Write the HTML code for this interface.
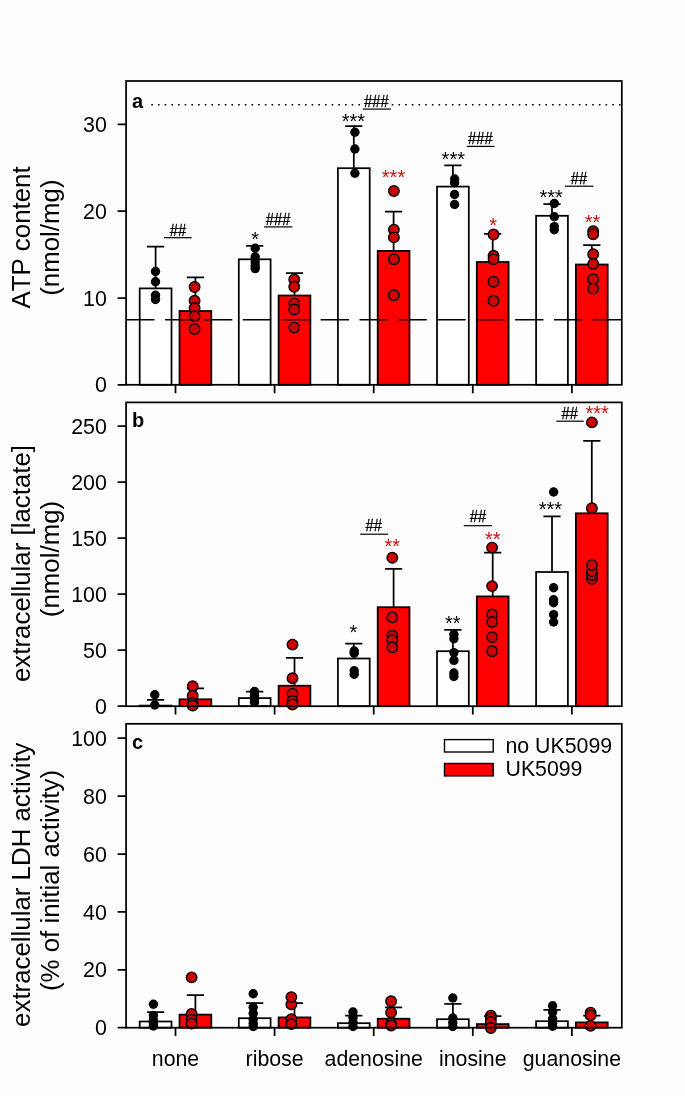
<!DOCTYPE html>
<html><head><meta charset="utf-8"><title>chart</title>
<style>
html,body{margin:0;padding:0;background:#fdfdfd;}
body{width:685px;height:1096px;overflow:hidden;}
svg{display:block;filter:blur(0.35px);}
text{font-family:"Liberation Sans",sans-serif;fill:#000;font-kerning:none;}
.t{font-size:21.4px;text-anchor:end;}
.x{font-size:21.3px;text-anchor:middle;}
.y{font-size:25.85px;text-anchor:middle;}
.p{font-size:20px;font-weight:bold;}
.h{font-size:15px;text-anchor:middle;stroke:#000;stroke-width:0.3px;}
.s{font-size:20px;text-anchor:middle;}
.l{font-size:21.3px;}
</style></head><body>
<svg width="685" height="1096" viewBox="0 0 685 1096">
<rect x="0" y="0" width="685" height="1096" fill="#fdfdfd"/>
<g>
<rect x="139.7" y="288.4" width="31.8" height="96.4" fill="#ffffff" stroke="#000" stroke-width="1.75"/>
<path d="M155.6 288.4V246.7M147 246.7H164.2" stroke="#000" stroke-width="1.75" fill="none"/>
<circle cx="155.5" cy="271.5" r="4.7" fill="#000"/>
<circle cx="155.5" cy="281.8" r="4.7" fill="#000"/>
<circle cx="155.5" cy="295.3" r="4.7" fill="#000"/>
<circle cx="155.5" cy="299.5" r="4.7" fill="#000"/>
<rect x="179.5" y="311" width="31.8" height="73.8" fill="#ff0000" stroke="#000" stroke-width="1.75"/>
<path d="M195.4 311V277.4M186.8 277.4H204" stroke="#000" stroke-width="1.75" fill="none"/>
<circle cx="194.6" cy="287" r="5.25" fill="#cc0000" stroke="#000" stroke-width="1.4"/>
<circle cx="194.6" cy="300.7" r="5.25" fill="#cc0000" stroke="#000" stroke-width="1.4"/>
<circle cx="194.6" cy="308" r="5.25" fill="#cc0000" stroke="#000" stroke-width="1.4"/>
<circle cx="194.6" cy="316.2" r="5.25" fill="#cc0000" stroke="#000" stroke-width="1.4"/>
<circle cx="194.6" cy="329" r="5.25" fill="#cc0000" stroke="#000" stroke-width="1.4"/>
<rect x="238.8" y="259.3" width="31.8" height="125.5" fill="#ffffff" stroke="#000" stroke-width="1.75"/>
<path d="M254.7 259.3V245.8M246.1 245.8H263.3" stroke="#000" stroke-width="1.75" fill="none"/>
<circle cx="255.2" cy="248.2" r="4.7" fill="#000"/>
<circle cx="255.2" cy="256.9" r="4.7" fill="#000"/>
<circle cx="255.2" cy="261.9" r="4.7" fill="#000"/>
<circle cx="255.2" cy="265.7" r="4.7" fill="#000"/>
<circle cx="255.2" cy="268.6" r="4.7" fill="#000"/>
<rect x="278.6" y="295.5" width="31.8" height="89.3" fill="#ff0000" stroke="#000" stroke-width="1.75"/>
<path d="M294.5 295.5V273M285.9 273H303.1" stroke="#000" stroke-width="1.75" fill="none"/>
<circle cx="294.25" cy="279.4" r="5.25" fill="#cc0000" stroke="#000" stroke-width="1.4"/>
<circle cx="294.25" cy="286.7" r="5.25" fill="#cc0000" stroke="#000" stroke-width="1.4"/>
<circle cx="294.25" cy="303.6" r="5.25" fill="#cc0000" stroke="#000" stroke-width="1.4"/>
<circle cx="294.25" cy="309.5" r="5.25" fill="#cc0000" stroke="#000" stroke-width="1.4"/>
<circle cx="294.25" cy="327.6" r="5.25" fill="#cc0000" stroke="#000" stroke-width="1.4"/>
<rect x="337.9" y="168.2" width="31.8" height="216.6" fill="#ffffff" stroke="#000" stroke-width="1.75"/>
<path d="M353.8 168.2V126.2M345.2 126.2H362.4" stroke="#000" stroke-width="1.75" fill="none"/>
<circle cx="354.9" cy="132.3" r="4.7" fill="#000"/>
<circle cx="354.9" cy="149" r="4.7" fill="#000"/>
<circle cx="354.9" cy="173.2" r="4.7" fill="#000"/>
<rect x="377.7" y="250.9" width="31.8" height="133.9" fill="#ff0000" stroke="#000" stroke-width="1.75"/>
<path d="M393.6 250.9V211.5M385 211.5H402.2" stroke="#000" stroke-width="1.75" fill="none"/>
<circle cx="393.9" cy="191" r="5.25" fill="#cc0000" stroke="#000" stroke-width="1.4"/>
<circle cx="393.9" cy="229.6" r="5.25" fill="#cc0000" stroke="#000" stroke-width="1.4"/>
<circle cx="393.9" cy="237.4" r="5.25" fill="#cc0000" stroke="#000" stroke-width="1.4"/>
<circle cx="393.9" cy="259.3" r="5.25" fill="#cc0000" stroke="#000" stroke-width="1.4"/>
<circle cx="393.9" cy="295.3" r="5.25" fill="#cc0000" stroke="#000" stroke-width="1.4"/>
<rect x="437" y="186.6" width="31.8" height="198.2" fill="#ffffff" stroke="#000" stroke-width="1.75"/>
<path d="M452.9 186.6V165.3M444.3 165.3H461.5" stroke="#000" stroke-width="1.75" fill="none"/>
<circle cx="454.6" cy="179" r="4.7" fill="#000"/>
<circle cx="454.6" cy="182.8" r="4.7" fill="#000"/>
<circle cx="454.6" cy="194.5" r="4.7" fill="#000"/>
<circle cx="454.6" cy="204.5" r="4.7" fill="#000"/>
<rect x="476.8" y="262" width="31.8" height="122.8" fill="#ff0000" stroke="#000" stroke-width="1.75"/>
<path d="M492.7 262V233.9M484.1 233.9H501.3" stroke="#000" stroke-width="1.75" fill="none"/>
<circle cx="493.55" cy="234.5" r="5.25" fill="#cc0000" stroke="#000" stroke-width="1.4"/>
<circle cx="493.55" cy="255.8" r="5.25" fill="#cc0000" stroke="#000" stroke-width="1.4"/>
<circle cx="493.55" cy="259.3" r="5.25" fill="#cc0000" stroke="#000" stroke-width="1.4"/>
<circle cx="493.55" cy="281.8" r="5.25" fill="#cc0000" stroke="#000" stroke-width="1.4"/>
<circle cx="493.55" cy="300.8" r="5.25" fill="#cc0000" stroke="#000" stroke-width="1.4"/>
<rect x="536.1" y="215.8" width="31.8" height="169" fill="#ffffff" stroke="#000" stroke-width="1.75"/>
<path d="M552 215.8V204.2M543.4 204.2H560.6" stroke="#000" stroke-width="1.75" fill="none"/>
<circle cx="554.3" cy="203.5" r="4.7" fill="#000"/>
<circle cx="554.3" cy="216.8" r="4.7" fill="#000"/>
<circle cx="554.3" cy="226.6" r="4.7" fill="#000"/>
<circle cx="554.3" cy="229.7" r="4.7" fill="#000"/>
<rect x="575.9" y="264.5" width="31.8" height="120.3" fill="#ff0000" stroke="#000" stroke-width="1.75"/>
<path d="M591.8 264.5V245M583.2 245H600.4" stroke="#000" stroke-width="1.75" fill="none"/>
<circle cx="593.2" cy="231.3" r="5.25" fill="#cc0000" stroke="#000" stroke-width="1.4"/>
<circle cx="593.2" cy="234.2" r="5.25" fill="#cc0000" stroke="#000" stroke-width="1.4"/>
<circle cx="593.2" cy="254.2" r="5.25" fill="#cc0000" stroke="#000" stroke-width="1.4"/>
<circle cx="593.2" cy="264" r="5.25" fill="#cc0000" stroke="#000" stroke-width="1.4"/>
<circle cx="593.2" cy="279.2" r="5.25" fill="#cc0000" stroke="#000" stroke-width="1.4"/>
<circle cx="593.2" cy="288.6" r="5.25" fill="#cc0000" stroke="#000" stroke-width="1.4"/>
<line x1="126.1" y1="319.8" x2="621.8" y2="319.8" stroke="#000" stroke-width="1.5" stroke-dasharray="28.4 10.5"/>
<line x1="151.3" y1="104.8" x2="621.8" y2="104.8" stroke="#000" stroke-width="1.6" stroke-dasharray="1.6 5.08"/>
<rect x="362.5" y="95" width="28.5" height="15" fill="#fdfdfd"/>
<rect x="126.1" y="81" width="495.7" height="303.8" fill="none" stroke="#000" stroke-width="1.75"/>
<text class="t" x="106.9" y="392.4">0</text>
<text class="t" x="106.9" y="305.6">10</text>
<text class="t" x="106.9" y="218.8">20</text>
<text class="t" x="106.9" y="132">30</text>
<path d="M117.6 384.8H126.1M117.6 298H126.1M117.6 211.2H126.1M117.6 124.4H126.1M175.5 384.8V393.2M274.6 384.8V393.2M373.7 384.8V393.2M472.8 384.8V393.2M571.9 384.8V393.2" stroke="#000" stroke-width="1.75" fill="none"/>
</g>
<g>
<rect x="139.7" y="705.6" width="31.8" height="0.6" fill="#ffffff" stroke="#000" stroke-width="1.75"/>
<path d="M155.6 705.6V699.9M147 699.9H164.2" stroke="#000" stroke-width="1.75" fill="none"/>
<circle cx="154.8" cy="694.8" r="4.7" fill="#000"/>
<circle cx="154.8" cy="705" r="4.7" fill="#000"/>
<rect x="179.5" y="699.3" width="31.8" height="6.9" fill="#ff0000" stroke="#000" stroke-width="1.75"/>
<path d="M195.4 699.3V688.3M186.8 688.3H204" stroke="#000" stroke-width="1.75" fill="none"/>
<circle cx="192.7" cy="686.2" r="5.25" fill="#cc0000" stroke="#000" stroke-width="1.4"/>
<circle cx="192.7" cy="695.8" r="5.25" fill="#cc0000" stroke="#000" stroke-width="1.4"/>
<circle cx="192.7" cy="703.1" r="5.25" fill="#cc0000" stroke="#000" stroke-width="1.4"/>
<circle cx="192.7" cy="705.5" r="5.25" fill="#cc0000" stroke="#000" stroke-width="1.4"/>
<rect x="238.8" y="698.1" width="31.8" height="8.1" fill="#ffffff" stroke="#000" stroke-width="1.75"/>
<path d="M254.7 698.1V691.5M246.1 691.5H263.3" stroke="#000" stroke-width="1.75" fill="none"/>
<circle cx="254.5" cy="691.5" r="4.7" fill="#000"/>
<circle cx="254.5" cy="695.5" r="4.7" fill="#000"/>
<circle cx="254.5" cy="699" r="4.7" fill="#000"/>
<circle cx="254.5" cy="702.2" r="4.7" fill="#000"/>
<rect x="278.6" y="685.7" width="31.8" height="20.5" fill="#ff0000" stroke="#000" stroke-width="1.75"/>
<path d="M294.5 685.7V657.9M285.9 657.9H303.1" stroke="#000" stroke-width="1.75" fill="none"/>
<circle cx="292.5" cy="644.6" r="5.25" fill="#cc0000" stroke="#000" stroke-width="1.4"/>
<circle cx="292.5" cy="678.2" r="5.25" fill="#cc0000" stroke="#000" stroke-width="1.4"/>
<circle cx="292.5" cy="693.8" r="5.25" fill="#cc0000" stroke="#000" stroke-width="1.4"/>
<circle cx="292.5" cy="701" r="5.25" fill="#cc0000" stroke="#000" stroke-width="1.4"/>
<circle cx="292.5" cy="704.5" r="5.25" fill="#cc0000" stroke="#000" stroke-width="1.4"/>
<rect x="337.9" y="658.5" width="31.8" height="47.7" fill="#ffffff" stroke="#000" stroke-width="1.75"/>
<path d="M353.8 658.5V643.6M345.2 643.6H362.4" stroke="#000" stroke-width="1.75" fill="none"/>
<circle cx="354.2" cy="651" r="4.7" fill="#000"/>
<circle cx="354.2" cy="653.3" r="4.7" fill="#000"/>
<circle cx="354.2" cy="670.8" r="4.7" fill="#000"/>
<circle cx="354.2" cy="674.3" r="4.7" fill="#000"/>
<rect x="377.7" y="607.2" width="31.8" height="99" fill="#ff0000" stroke="#000" stroke-width="1.75"/>
<path d="M393.6 607.2V568.9M385 568.9H402.2" stroke="#000" stroke-width="1.75" fill="none"/>
<circle cx="392.3" cy="557.8" r="5.25" fill="#cc0000" stroke="#000" stroke-width="1.4"/>
<circle cx="392.3" cy="617.4" r="5.25" fill="#cc0000" stroke="#000" stroke-width="1.4"/>
<circle cx="392.3" cy="635.8" r="5.25" fill="#cc0000" stroke="#000" stroke-width="1.4"/>
<circle cx="392.3" cy="640.1" r="5.25" fill="#cc0000" stroke="#000" stroke-width="1.4"/>
<circle cx="392.3" cy="647.4" r="5.25" fill="#cc0000" stroke="#000" stroke-width="1.4"/>
<rect x="437" y="651.2" width="31.8" height="55" fill="#ffffff" stroke="#000" stroke-width="1.75"/>
<path d="M452.9 651.2V629.9M444.3 629.9H461.5" stroke="#000" stroke-width="1.75" fill="none"/>
<circle cx="453.9" cy="634.4" r="4.7" fill="#000"/>
<circle cx="453.9" cy="638.8" r="4.7" fill="#000"/>
<circle cx="453.9" cy="652.6" r="4.7" fill="#000"/>
<circle cx="453.9" cy="660.4" r="4.7" fill="#000"/>
<circle cx="453.9" cy="673" r="4.7" fill="#000"/>
<circle cx="453.9" cy="676.5" r="4.7" fill="#000"/>
<rect x="476.8" y="596.4" width="31.8" height="109.8" fill="#ff0000" stroke="#000" stroke-width="1.75"/>
<path d="M492.7 596.4V552.6M484.1 552.6H501.3" stroke="#000" stroke-width="1.75" fill="none"/>
<circle cx="492.1" cy="547.6" r="5.25" fill="#cc0000" stroke="#000" stroke-width="1.4"/>
<circle cx="492.1" cy="586.1" r="5.25" fill="#cc0000" stroke="#000" stroke-width="1.4"/>
<circle cx="492.1" cy="614.5" r="5.25" fill="#cc0000" stroke="#000" stroke-width="1.4"/>
<circle cx="492.1" cy="622" r="5.25" fill="#cc0000" stroke="#000" stroke-width="1.4"/>
<circle cx="492.1" cy="637.2" r="5.25" fill="#cc0000" stroke="#000" stroke-width="1.4"/>
<circle cx="492.1" cy="651.2" r="5.25" fill="#cc0000" stroke="#000" stroke-width="1.4"/>
<rect x="536.1" y="572" width="31.8" height="134.2" fill="#ffffff" stroke="#000" stroke-width="1.75"/>
<path d="M552 572V516.3M543.4 516.3H560.6" stroke="#000" stroke-width="1.75" fill="none"/>
<circle cx="553.6" cy="492" r="4.7" fill="#000"/>
<circle cx="553.6" cy="587.7" r="4.7" fill="#000"/>
<circle cx="553.6" cy="599.8" r="4.7" fill="#000"/>
<circle cx="553.6" cy="602.8" r="4.7" fill="#000"/>
<circle cx="553.6" cy="614.6" r="4.7" fill="#000"/>
<circle cx="553.6" cy="622" r="4.7" fill="#000"/>
<rect x="575.9" y="513.3" width="31.8" height="192.9" fill="#ff0000" stroke="#000" stroke-width="1.75"/>
<path d="M591.8 513.3V440.8M583.2 440.8H600.4" stroke="#000" stroke-width="1.75" fill="none"/>
<circle cx="591.9" cy="422.4" r="5.25" fill="#cc0000" stroke="#000" stroke-width="1.4"/>
<circle cx="591.9" cy="508.2" r="5.25" fill="#cc0000" stroke="#000" stroke-width="1.4"/>
<circle cx="591.9" cy="578.7" r="5.25" fill="#cc0000" stroke="#000" stroke-width="1.4"/>
<circle cx="591.9" cy="575.1" r="5.25" fill="#cc0000" stroke="#000" stroke-width="1.4"/>
<circle cx="591.9" cy="571.2" r="5.25" fill="#cc0000" stroke="#000" stroke-width="1.4"/>
<circle cx="591.9" cy="565.1" r="5.25" fill="#cc0000" stroke="#000" stroke-width="1.4"/>
<rect x="126.1" y="402.4" width="495.7" height="303.8" fill="none" stroke="#000" stroke-width="1.75"/>
<text class="t" x="106.9" y="713.8">0</text>
<text class="t" x="106.9" y="657.8">50</text>
<text class="t" x="106.9" y="601.8">100</text>
<text class="t" x="106.9" y="545.8">150</text>
<text class="t" x="106.9" y="489.8">200</text>
<text class="t" x="106.9" y="433.8">250</text>
<path d="M117.6 706.2H126.1M117.6 650.2H126.1M117.6 594.2H126.1M117.6 538.2H126.1M117.6 482.2H126.1M117.6 426.2H126.1M175.5 706.2V714.6M274.6 706.2V714.6M373.7 706.2V714.6M472.8 706.2V714.6M571.9 706.2V714.6" stroke="#000" stroke-width="1.75" fill="none"/>
</g>
<g>
<rect x="139.7" y="1021.5" width="31.8" height="6.2" fill="#ffffff" stroke="#000" stroke-width="1.75"/>
<path d="M155.6 1021.5V1012.1M147 1012.1H164.2" stroke="#000" stroke-width="1.75" fill="none"/>
<circle cx="153.4" cy="1004.3" r="4.7" fill="#000"/>
<circle cx="153.4" cy="1015.4" r="4.7" fill="#000"/>
<circle cx="153.4" cy="1020.3" r="4.7" fill="#000"/>
<circle cx="153.4" cy="1023.6" r="4.7" fill="#000"/>
<circle cx="153.4" cy="1026" r="4.7" fill="#000"/>
<rect x="179.5" y="1014.6" width="31.8" height="13.1" fill="#ff0000" stroke="#000" stroke-width="1.75"/>
<path d="M195.4 1014.6V995M186.8 995H204" stroke="#000" stroke-width="1.75" fill="none"/>
<circle cx="191.6" cy="977.4" r="5.25" fill="#cc0000" stroke="#000" stroke-width="1.4"/>
<circle cx="191.6" cy="1013.9" r="5.25" fill="#cc0000" stroke="#000" stroke-width="1.4"/>
<circle cx="191.6" cy="1019.7" r="5.25" fill="#cc0000" stroke="#000" stroke-width="1.4"/>
<circle cx="191.6" cy="1023.6" r="5.25" fill="#cc0000" stroke="#000" stroke-width="1.4"/>
<rect x="238.8" y="1018.2" width="31.8" height="9.5" fill="#ffffff" stroke="#000" stroke-width="1.75"/>
<path d="M254.7 1018.2V1003.1M246.1 1003.1H263.3" stroke="#000" stroke-width="1.75" fill="none"/>
<circle cx="253.2" cy="993.7" r="4.7" fill="#000"/>
<circle cx="253.2" cy="1007.2" r="4.7" fill="#000"/>
<circle cx="253.2" cy="1013.4" r="4.7" fill="#000"/>
<circle cx="253.2" cy="1019.5" r="4.7" fill="#000"/>
<circle cx="253.2" cy="1023.6" r="4.7" fill="#000"/>
<circle cx="253.2" cy="1026.5" r="4.7" fill="#000"/>
<rect x="278.6" y="1017.4" width="31.8" height="10.3" fill="#ff0000" stroke="#000" stroke-width="1.75"/>
<path d="M294.5 1017.4V1003.1M285.9 1003.1H303.1" stroke="#000" stroke-width="1.75" fill="none"/>
<circle cx="291.35" cy="1004.4" r="5.25" fill="#cc0000" stroke="#000" stroke-width="1.4"/>
<circle cx="291.35" cy="997.1" r="5.25" fill="#cc0000" stroke="#000" stroke-width="1.4"/>
<circle cx="291.35" cy="1019.3" r="5.25" fill="#cc0000" stroke="#000" stroke-width="1.4"/>
<circle cx="291.35" cy="1024.1" r="5.25" fill="#cc0000" stroke="#000" stroke-width="1.4"/>
<rect x="337.9" y="1023.2" width="31.8" height="4.5" fill="#ffffff" stroke="#000" stroke-width="1.75"/>
<path d="M353.8 1023.2V1015.6M345.2 1015.6H362.4" stroke="#000" stroke-width="1.75" fill="none"/>
<circle cx="353" cy="1012" r="4.7" fill="#000"/>
<circle cx="353" cy="1017.8" r="4.7" fill="#000"/>
<circle cx="353" cy="1022.4" r="4.7" fill="#000"/>
<circle cx="353" cy="1026.5" r="4.7" fill="#000"/>
<rect x="377.7" y="1018.7" width="31.8" height="9" fill="#ff0000" stroke="#000" stroke-width="1.75"/>
<path d="M393.6 1018.7V1007.4M385 1007.4H402.2" stroke="#000" stroke-width="1.75" fill="none"/>
<circle cx="391.1" cy="1001.2" r="5.25" fill="#cc0000" stroke="#000" stroke-width="1.4"/>
<circle cx="391.1" cy="1012.5" r="5.25" fill="#cc0000" stroke="#000" stroke-width="1.4"/>
<circle cx="391.1" cy="1023.4" r="5.25" fill="#cc0000" stroke="#000" stroke-width="1.4"/>
<circle cx="391.1" cy="1025.5" r="5.25" fill="#cc0000" stroke="#000" stroke-width="1.4"/>
<rect x="437" y="1019.2" width="31.8" height="8.5" fill="#ffffff" stroke="#000" stroke-width="1.75"/>
<path d="M452.9 1019.2V1003.8M444.3 1003.8H461.5" stroke="#000" stroke-width="1.75" fill="none"/>
<circle cx="452.8" cy="998" r="4.7" fill="#000"/>
<circle cx="452.8" cy="1018" r="4.7" fill="#000"/>
<circle cx="452.8" cy="1022.5" r="4.7" fill="#000"/>
<circle cx="452.8" cy="1026.5" r="4.7" fill="#000"/>
<rect x="476.8" y="1024.1" width="31.8" height="3.6" fill="#ff0000" stroke="#000" stroke-width="1.75"/>
<path d="M492.7 1024.1V1016M484.1 1016H501.3" stroke="#000" stroke-width="1.75" fill="none"/>
<circle cx="490.85" cy="1015.6" r="5.25" fill="#cc0000" stroke="#000" stroke-width="1.4"/>
<circle cx="490.85" cy="1018.5" r="5.25" fill="#cc0000" stroke="#000" stroke-width="1.4"/>
<circle cx="490.85" cy="1022" r="5.25" fill="#cc0000" stroke="#000" stroke-width="1.4"/>
<circle cx="490.85" cy="1028" r="5.25" fill="#cc0000" stroke="#000" stroke-width="1.4"/>
<rect x="536.1" y="1021.2" width="31.8" height="6.5" fill="#ffffff" stroke="#000" stroke-width="1.75"/>
<path d="M552 1021.2V1009.9M543.4 1009.9H560.6" stroke="#000" stroke-width="1.75" fill="none"/>
<circle cx="552.6" cy="1005.8" r="4.7" fill="#000"/>
<circle cx="552.6" cy="1011.9" r="4.7" fill="#000"/>
<circle cx="552.6" cy="1018.7" r="4.7" fill="#000"/>
<circle cx="552.6" cy="1023.3" r="4.7" fill="#000"/>
<circle cx="552.6" cy="1026.3" r="4.7" fill="#000"/>
<rect x="575.9" y="1022.4" width="31.8" height="5.3" fill="#ff0000" stroke="#000" stroke-width="1.75"/>
<path d="M591.8 1022.4V1015.5M583.2 1015.5H600.4" stroke="#000" stroke-width="1.75" fill="none"/>
<circle cx="590.6" cy="1012.6" r="5.25" fill="#cc0000" stroke="#000" stroke-width="1.4"/>
<circle cx="590.6" cy="1015.4" r="5.25" fill="#cc0000" stroke="#000" stroke-width="1.4"/>
<circle cx="590.6" cy="1025.9" r="5.25" fill="#cc0000" stroke="#000" stroke-width="1.4"/>
<rect x="126.1" y="723.8" width="495.7" height="303.9" fill="none" stroke="#000" stroke-width="1.75"/>
<text class="t" x="106.9" y="1035.3">0</text>
<text class="t" x="106.9" y="977.4">20</text>
<text class="t" x="106.9" y="919.5">40</text>
<text class="t" x="106.9" y="861.6">60</text>
<text class="t" x="106.9" y="803.7">80</text>
<text class="t" x="106.9" y="745.8">100</text>
<path d="M117.6 1027.7H126.1M117.6 969.8H126.1M117.6 911.9H126.1M117.6 854H126.1M117.6 796.1H126.1M117.6 738.2H126.1M175.5 1027.7V1036.1M274.6 1027.7V1036.1M373.7 1027.7V1036.1M472.8 1027.7V1036.1M571.9 1027.7V1036.1" stroke="#000" stroke-width="1.75" fill="none"/>
</g>
<text class="p" x="132" y="108.2">a</text>
<text class="p" x="132" y="427.1">b</text>
<text class="p" x="132" y="748.6">c</text>
<text class="h" transform="translate(177.9 235.6) scale(0.98 1.1)">##</text>
<line x1="164" y1="237.7" x2="191.7" y2="237.7" stroke="#000" stroke-width="1.2"/>
<text class="h" transform="translate(278.1 224.8) scale(0.98 1.1)">###</text>
<line x1="264.1" y1="226.9" x2="292.4" y2="226.9" stroke="#000" stroke-width="1.2"/>
<text class="h" transform="translate(376.3 107.1) scale(0.98 1.1)">###</text>
<line x1="362.8" y1="109.1" x2="390.8" y2="109.1" stroke="#000" stroke-width="1.2"/>
<text class="h" transform="translate(480.3 144) scale(0.98 1.1)">###</text>
<line x1="466.7" y1="146.4" x2="494.5" y2="146.4" stroke="#000" stroke-width="1.2"/>
<text class="h" transform="translate(578.9 183.7) scale(0.98 1.1)">##</text>
<line x1="564.8" y1="186.2" x2="593.4" y2="186.2" stroke="#000" stroke-width="1.2"/>
<text class="h" transform="translate(373.7 530.7) scale(0.98 1.1)">##</text>
<line x1="360.2" y1="534.2" x2="388.2" y2="534.2" stroke="#000" stroke-width="1.2"/>
<text class="h" transform="translate(478 521.9) scale(0.98 1.1)">##</text>
<line x1="463.8" y1="525.7" x2="491.8" y2="525.7" stroke="#000" stroke-width="1.2"/>
<text class="h" transform="translate(569.7 419.1) scale(0.98 1.1)">##</text>
<line x1="556.3" y1="421.2" x2="583.7" y2="421.2" stroke="#000" stroke-width="1.2"/>
<text class="s" x="255.2" y="245.6">*</text>
<text class="s" x="353.4" y="127.8">***</text>
<text class="s" x="393.5" y="183.9" style="fill:#cc1010">***</text>
<text class="s" x="453.3" y="166">***</text>
<text class="s" x="493.1" y="231.5" style="fill:#cc1010">*</text>
<text class="s" x="551.1" y="204">***</text>
<text class="s" x="592.5" y="228.8" style="fill:#cc1010">**</text>
<text class="s" x="353.4" y="638.9">*</text>
<text class="s" x="392.3" y="552.9" style="fill:#cc1010">**</text>
<text class="s" x="452.7" y="629.7">**</text>
<text class="s" x="492.7" y="546.4" style="fill:#cc1010">**</text>
<text class="s" x="550.4" y="516">***</text>
<text class="s" x="597.2" y="419.7" style="fill:#cc1010">***</text>
<text class="x" x="175.5" y="1065.7">none</text>
<text class="x" x="274.6" y="1065.7">ribose</text>
<text class="x" x="373.7" y="1065.7">adenosine</text>
<text class="x" x="472.8" y="1065.7">inosine</text>
<text class="x" x="571.9" y="1065.7">guanosine</text>
<text class="y" transform="translate(30.4 237.5) rotate(-90)">ATP content</text>
<text class="y" transform="translate(59.2 237.6) rotate(-90)">(nmol/mg)</text>
<text class="y" transform="translate(30.4 563.5) rotate(-90)">extracellular [lactate]</text>
<text class="y" transform="translate(59.2 559) rotate(-90)">(nmol/mg)</text>
<text class="y" transform="translate(30.4 884.7) rotate(-90)">extracellular LDH activity</text>
<text class="y" transform="translate(59.2 880.5) rotate(-90)">(% of initial activity)</text>
<rect x="444.5" y="739.6" width="48.7" height="12.4" fill="#fff" stroke="#000" stroke-width="1.4"/>
<rect x="444.5" y="763.5" width="48.7" height="12.4" fill="#ff0000" stroke="#000" stroke-width="1.4"/>
<text class="l" x="505.5" y="753.2">no UK5099</text>
<text class="l" x="505.5" y="776.2">UK5099</text>
</svg>
</body></html>
